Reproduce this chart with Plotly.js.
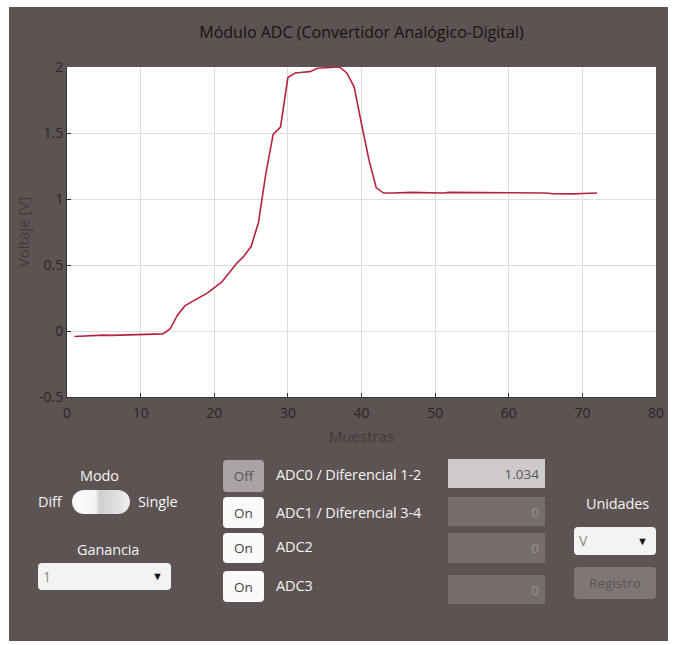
<!DOCTYPE html>
<html>
<head>
<meta charset="utf-8">
<script src="https://cdn.plot.ly/plotly-3.0.1.min.js"></script>
<style>
  html, body { margin:0; padding:0; background:#ffffff; overflow:hidden; }
  #wrap { position:relative; width:676px; height:645px; background:#ffffff; font-family:"Open Sans","Noto Sans",sans-serif; }
  #panel { position:absolute; left:9px; top:7px; width:659px; height:634px; background:#5c5352; }
  #chart { position:absolute; left:0; top:0; width:676px; height:645px; }
  .lbl { position:absolute; color:#f4f4f4; font-size:14.5px; white-space:nowrap; line-height:1; letter-spacing:-0.1px; }
  .btn { position:absolute; border-radius:4px; font-size:13.5px; display:flex; align-items:center; justify-content:center; box-sizing:border-box; }
  .fld { position:absolute; font-size:13.5px; display:flex; align-items:center; justify-content:flex-end; padding-right:6px; box-sizing:border-box; }
  .dd { position:absolute; background:#f3f3f3; border-radius:4px; box-sizing:border-box; font-size:14px; color:#8a8a8a; }
</style>
</head>
<body>
<div id="wrap">
  <div id="panel"></div>
  <div id="chart"></div>
  <!-- controls -->
  <div class="lbl" style="left:80px;top:469px;">Modo</div>
  <div class="lbl" style="left:38px;top:495px;">Diff</div>
  <div style="position:absolute;left:72px;top:490px;width:58px;height:24px;border-radius:12px;background:linear-gradient(90deg,#ffffff 0%,#f4f4f4 40%,#cfcfcf 48%,#dedede 75%,#f0f0f0 100%);"></div>
  <div class="lbl" style="left:138px;top:495px;">Single</div>
  <div class="lbl" style="left:77px;top:543px;">Ganancia</div>
  <div class="dd" style="left:38px;top:563px;width:133px;height:27px;">
    <span style="position:absolute;left:5px;top:4px;">1</span>
    <span style="position:absolute;right:8px;top:5px;color:#111;font-size:11px;">&#9660;</span>
  </div>

  <div class="btn" style="left:223px;top:460px;width:41px;height:32px;background:#a9a4a3;color:#555;">Off</div>
  <div class="btn" style="left:223px;top:497px;width:41px;height:31px;background:#fafafa;color:#444;">On</div>
  <div class="btn" style="left:223px;top:533px;width:41px;height:30px;background:#fafafa;color:#444;">On</div>
  <div class="btn" style="left:223px;top:571px;width:41px;height:31px;background:#fafafa;color:#444;">On</div>

  <div class="lbl" style="left:276px;top:468px;">ADC0 / Diferencial 1-2</div>
  <div class="lbl" style="left:276px;top:506px;">ADC1 / Diferencial 3-4</div>
  <div class="lbl" style="left:276px;top:540px;">ADC2</div>
  <div class="lbl" style="left:276px;top:579px;">ADC3</div>

  <div class="fld" style="left:448px;top:459px;width:97px;height:29px;background:#cfcbca;color:#555;" id="f0"></div>
  <div class="fld" style="left:448px;top:497px;width:97px;height:29px;background:#766e6d;color:#9a9392;" id="f1"></div>
  <div class="fld" style="left:448px;top:533px;width:97px;height:30px;background:#766e6d;color:#9a9392;" id="f2"></div>
  <div class="fld" style="left:448px;top:575px;width:97px;height:29px;background:#766e6d;color:#9a9392;" id="f3"></div>

  <div class="lbl" style="left:586px;top:497px;">Unidades</div>
  <div class="dd" style="left:574px;top:527px;width:82px;height:28px;">
    <span style="position:absolute;left:5px;top:4px;">V</span>
    <span style="position:absolute;right:8px;top:6px;color:#111;font-size:11px;">&#9660;</span>
  </div>
  <div class="btn" style="left:574px;top:567px;width:82px;height:32px;background:#7e7776;color:#5a5352;">Registro</div>
</div>
<script>
const muestras = [1,2,3,4,5,6,7,8,9,10,11,12,13,14,15,16,17,18,19,20,21,22,23,24,25,26,27,28,29,30,31,32,33,34,35,36,37,38,39,40,41,42,43,44,45,46,47,48,49,50,51,52,53,54,55,56,57,58,59,60,61,62,63,64,65,66,67,68,69,70,71,72];
const voltaje = [-0.042,-0.040,-0.036,-0.031,-0.031,-0.033,-0.031,-0.030,-0.029,-0.028,-0.025,-0.023,-0.022,0.015,0.12,0.19,0.225,0.255,0.285,0.33,0.37,0.44,0.51,0.565,0.64,0.82,1.19,1.49,1.545,1.92,1.955,1.96,1.965,1.99,1.995,1.998,2.0,1.955,1.85,1.57,1.30,1.085,1.045,1.045,1.047,1.05,1.05,1.048,1.047,1.045,1.045,1.05,1.05,1.045,1.045,1.045,1.045,1.045,1.045,1.045,1.045,1.045,1.045,1.045,1.045,1.04,1.038,1.038,1.039,1.042,1.045,1.045];
const lecturas = ["1.034","0","0","0"];
const xTicks = [0,10,20,30,40,50,60,70,80];
const yTicks = [-0.5,0,0.5,1,1.5,2];

lecturas.forEach((v,i)=>{ document.getElementById('f'+i).textContent = v; });

const font = "Open Sans, Noto Sans, sans-serif";
const trace = {
  x: muestras, y: voltaje, type:'scatter', mode:'lines',
  line:{color:'#b8223f', width:1.6}, hoverinfo:'skip'
};
const layout = {
  width:676, height:645,
  margin:{l:67, r:20, t:67, b:248},
  paper_bgcolor:'rgba(0,0,0,0)', plot_bgcolor:'#ffffff',
  showlegend:false,
  font:{family:font, color:'#2a2626', size:13},
  title:{text:'Módulo ADC (Convertidor Analógico-Digital)', xref:'paper', x:0.5, xanchor:'center', yref:'container', y:1-32/645, yanchor:'middle', font:{family:font, size:16, color:'#161414'}},
  xaxis:{range:[0,80], tickvals:xTicks, ticktext:xTicks.map(String), showgrid:true, gridcolor:'#dedede', gridwidth:1,
         zeroline:false, showline:true, linecolor:'#333', linewidth:1, ticks:'inside', ticklen:4, tickcolor:'#333',
         ticklabelstandoff:3,
         tickfont:{family:font, size:14, color:'#2a2626'},
         title:{text:'Muestras', standoff:10, font:{family:font, size:15, color:'#403a3a'}}},
  yaxis:{range:[-0.5,2], tickvals:yTicks, ticktext:yTicks.map(String), showgrid:true, gridcolor:'#dedede', gridwidth:1,
         zeroline:false, showline:true, linecolor:'#333', linewidth:1, ticks:'inside', ticklen:4, tickcolor:'#333',
         tickfont:{family:font, size:14, color:'#2a2626'},
         title:{text:'Voltaje [V]', standoff:5, font:{family:font, size:15, color:'#403a3a'}}}
};
Plotly.newPlot('chart', [trace], layout, {staticPlot:true, displayModeBar:false});
</script>
</body>
</html>
